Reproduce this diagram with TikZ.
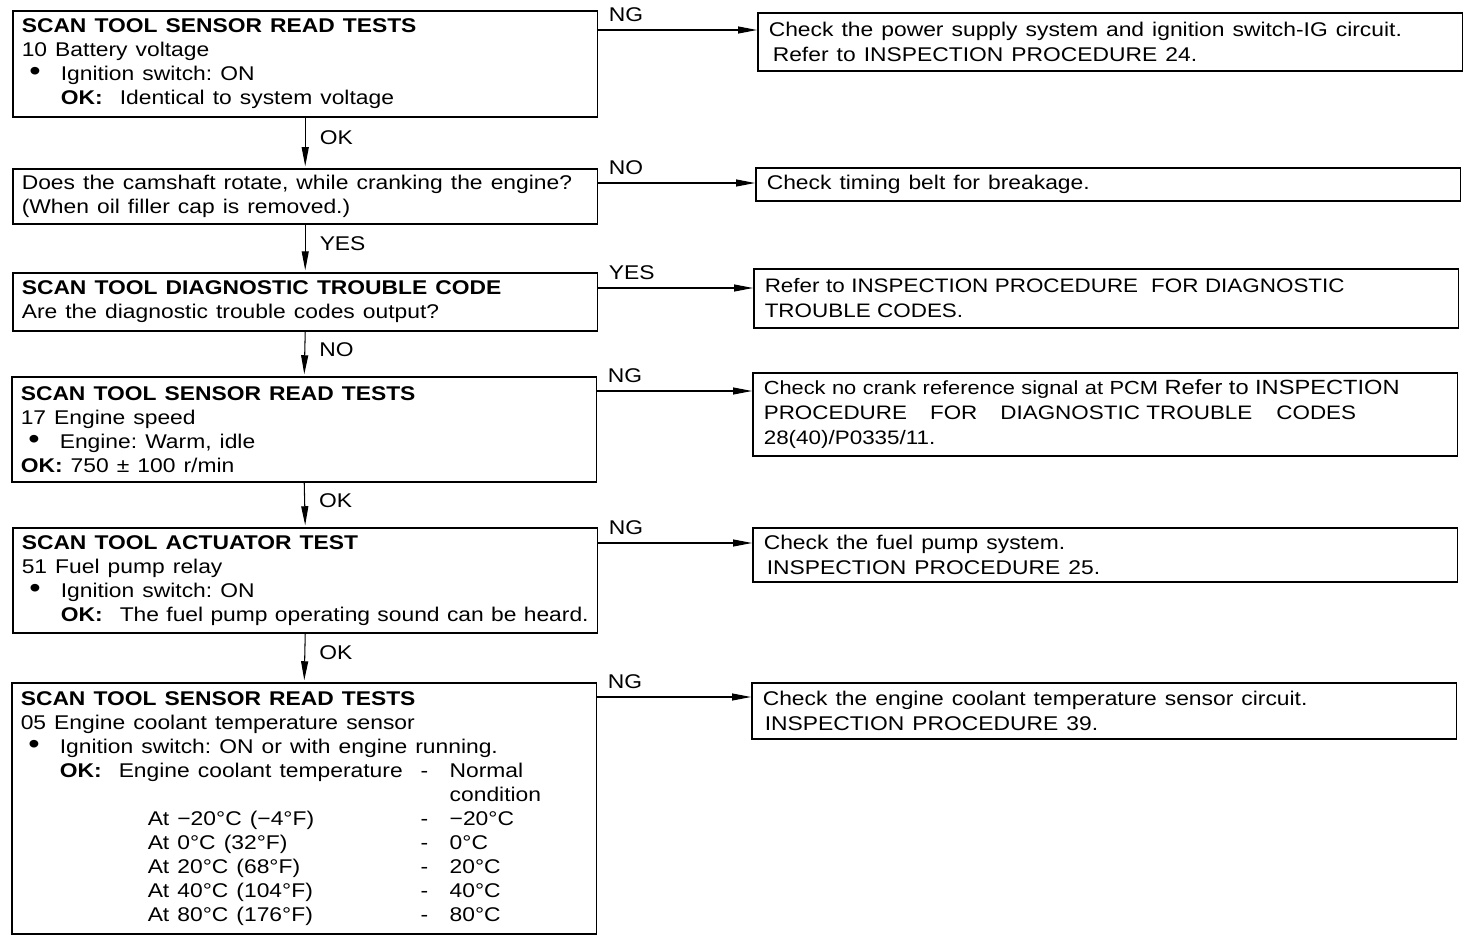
\documentclass[tikz,border=0pt]{standalone}
\usepackage{fontspec}
\setmainfont{Liberation Sans}[FakeStretch=1.15]
\usepackage{tikz}
\usetikzlibrary{arrows.meta,calc}

\newcommand{\widesp}{\frenchspacing\spaceskip=4.6pt plus 1pt minus 1pt\relax}
\newcommand{\bul}{\makebox[0.78cm][l]{\hspace*{0.15cm}{\fontsize{16pt}{14pt}\selectfont\textbullet}}}
\newcommand{\okk}{\makebox[1.18cm][l]{\textbf{OK:}}}
\newcommand{\ind}{\hspace*{0.78cm}}

\begin{document}
\begin{tikzpicture}[x=0.02cm, y=-0.02cm,
 check/.style={draw, line width=0.9pt, anchor=north west, text width=11.34cm, inner xsep=0.18cm, inner ysep=1pt, align=left, font=\fontsize{11.3pt}{13.66pt}\selectfont, execute at begin node=\widesp},
 result/.style={draw, line width=0.9pt, anchor=north west, text width=13.66cm, inner xsep=0.22cm, inner ysep=1pt, align=left, font=\fontsize{11.3pt}{14.2pt}\selectfont, execute at begin node=\widesp},
 tight/.style={draw, line width=0.9pt, anchor=north west, text width=13.66cm, inner xsep=0.22cm, inner ysep=1pt, align=left, font=\fontsize{11.1pt}{14.2pt}\selectfont, execute at begin node=\frenchspacing},
 flow/.style={-{Triangle[length=0.38cm, width=0.14cm]}, line width=0.6pt},
 lbl/.style={font=\fontsize{11.3pt}{13.66pt}\selectfont, inner sep=0pt}
]
\useasboundingbox (0,0) rectangle (1472,940);

\node[check, minimum height=2.12cm] (bat)  at (12,10)  {\textbf{SCAN TOOL SENSOR READ TESTS}\\10 Battery voltage\\\bul Ignition switch: ON\\\ind\okk Identical to system voltage};
\node[check, minimum height=1.10cm] (cam)  at (12,168) {Does the camshaft rotate, while cranking the engine?\\(When oil filler cap is removed.)};
\node[check, minimum height=1.16cm] (dtc)  at (12,272) {\textbf{SCAN TOOL DIAGNOSTIC TROUBLE CODE}\\Are the diagnostic trouble codes output?};
\node[check, minimum height=2.10cm] (rpm)  at (11,376) {\textbf{SCAN TOOL SENSOR READ TESTS}\\17 Engine speed\\\bul Engine: Warm, idle\\\textbf{OK:} 750 ± 100 r/min};
\node[check, minimum height=2.10cm] (pump) at (12,527) {\textbf{SCAN TOOL ACTUATOR TEST}\\51 Fuel pump relay\\\bul Ignition switch: ON\\\ind\okk The fuel pump operating sound can be heard.};
\node[check, minimum height=5.02cm] (ect)  at (11,682) {\textbf{SCAN TOOL SENSOR READ TESTS}\\05 Engine coolant temperature sensor\\\bul Ignition switch: ON or with engine running.\\
 \ind\okk\makebox[6.04cm][l]{Engine coolant temperature}\makebox[0.58cm][l]{-}Normal\\
 \hspace*{8.58cm}condition\\
 \hspace*{2.54cm}\makebox[5.46cm][l]{At −20°C (−4°F)}\makebox[0.58cm][l]{-}−20°C\\
 \hspace*{2.54cm}\makebox[5.46cm][l]{At 0°C (32°F)}\makebox[0.58cm][l]{-}0°C\\
 \hspace*{2.54cm}\makebox[5.46cm][l]{At 20°C (68°F)}\makebox[0.58cm][l]{-}20°C\\
 \hspace*{2.54cm}\makebox[5.46cm][l]{At 40°C (104°F)}\makebox[0.58cm][l]{-}40°C\\
 \hspace*{2.54cm}\makebox[5.46cm][l]{At 80°C (176°F)}\makebox[0.58cm][l]{-}80°C};

\node[result, minimum height=1.16cm] (pwr)   at (757,12)  {Check the power supply system and ignition switch-IG circuit.\\\hspace*{0.08cm}Refer to INSPECTION PROCEDURE 24.};
\node[result, minimum height=0.66cm] (belt)  at (755,167) {Check timing belt for breakage.};
\node[tight, minimum height=1.18cm]  (codes) at (753,268) {Refer to INSPECTION PROCEDURE\ \ FOR DIAGNOSTIC\\TROUBLE CODES.};
\node[tight, minimum height=1.66cm]  (crank) at (752,372) {{\fontsize{10.8pt}{14.2pt}\selectfont Check no crank reference signal at PCM} {\fontsize{11.7pt}{14.2pt}\selectfont Refer to INSPECTION}\\PROCEDURE\hspace{0.46cm}FOR\hspace{0.46cm}DIAGNOSTIC TROUBLE\hspace{0.48cm}CODES\\28(40)/P0335/11.};
\node[result, minimum height=1.08cm] (fuel)  at (752,527) {Check the fuel pump system.\\\hspace*{0.06cm}INSPECTION PROCEDURE 25.};
\node[result, minimum height=1.12cm] (ectc)  at (751,682) {Check the engine coolant temperature sensor circuit.\\\hspace*{0.04cm}INSPECTION PROCEDURE 39.};

\draw[flow, shorten >=1pt] (bat.south) -- node[lbl, pos=0.4, anchor=west, xshift=0.28cm] {OK} (cam.north);
\draw[flow, shorten >=1pt] (cam.south) -- node[lbl, pos=0.4, anchor=west, xshift=0.28cm] {YES} (dtc.north);
\draw[flow, shorten >=1pt] (dtc.south) -- node[lbl, pos=0.4, anchor=west, xshift=0.28cm] {NO} (rpm.north);
\draw[flow, shorten >=1pt] (rpm.south) -- node[lbl, pos=0.4, anchor=west, xshift=0.28cm] {OK} (pump.north);
\draw[flow, shorten >=1pt] (pump.south) -- node[lbl, pos=0.4, anchor=west, xshift=0.28cm] {OK} (ect.north);

\coordinate (s1) at ($(bat.north east)+(0,20)$);
\coordinate (s2) at ($(cam.north east)+(0,15)$);
\coordinate (s3) at ($(dtc.north east)+(0,16)$);
\coordinate (s4) at ($(rpm.north east)+(0,15)$);
\coordinate (s5) at ($(pump.north east)+(0,16)$);
\coordinate (s6) at ($(ect.north east)+(0,15)$);
\draw[flow] (s1) -- node[lbl, pos=0, anchor=base west, xshift=0.2cm, yshift=0.18cm] {NG} (s1 -| pwr.west);
\draw[flow] (s2) -- node[lbl, pos=0, anchor=base west, xshift=0.2cm, yshift=0.18cm] {NO} (s2 -| belt.west);
\draw[flow] (s3) -- node[lbl, pos=0, anchor=base west, xshift=0.2cm, yshift=0.18cm] {YES} (s3 -| codes.west);
\draw[flow] (s4) -- node[lbl, pos=0, anchor=base west, xshift=0.2cm, yshift=0.18cm] {NG} (s4 -| crank.west);
\draw[flow] (s5) -- node[lbl, pos=0, anchor=base west, xshift=0.2cm, yshift=0.18cm] {NG} (s5 -| fuel.west);
\draw[flow] (s6) -- node[lbl, pos=0, anchor=base west, xshift=0.2cm, yshift=0.18cm] {NG} (s6 -| ectc.west);
\end{tikzpicture}
\end{document}
